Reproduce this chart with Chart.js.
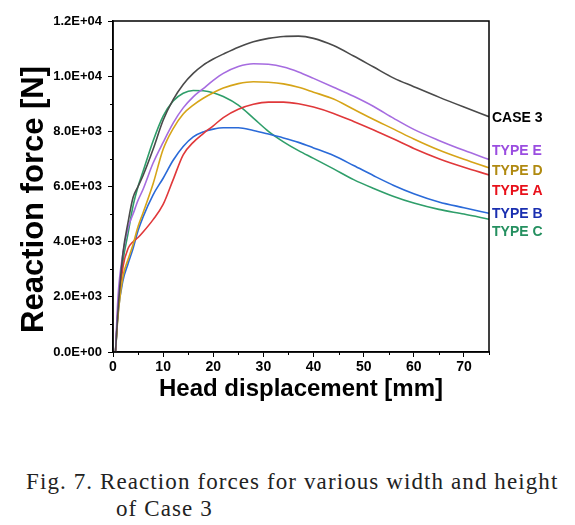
<!DOCTYPE html>
<html>
<head>
<meta charset="utf-8">
<script src="https://cdn.jsdelivr.net/npm/chart.js@4"></script>
<style>
  body { margin: 0; background: #fff; }
  #wrap { position: relative; width: 575px; height: 525px; }
  #chartBox { position: absolute; left: 0; top: 0; width: 575px; height: 420px; }
  .cap { position: absolute; font-family: 'Liberation Serif', serif; font-size: 23px; letter-spacing: 1.1px; color: #222; white-space: nowrap; }
</style>
</head>
<body>
<div id="wrap">
  <div id="chartBox"><canvas id="myChart"></canvas></div>
  <div class="cap" style="left:26px; top:469px;">Fig. 7. Reaction forces for various width and height</div>
  <div class="cap" style="left:116px; top:496px;">of Case 3</div>
</div>
<script>
  // head displacement [mm]
  const disp = [0.5, 1, 2, 3, 4, 5, 6, 8, 10, 12, 14, 16, 18, 20, 22, 25, 28, 31, 34, 37, 40, 44, 48, 52, 56, 60, 65, 70, 75];

  // reaction force [N]
  const case3 = [0, 1500, 3600, 4700, 5600, 6000, 6400, 7350, 8400, 9150, 9700, 10100, 10400, 10620, 10800, 11050, 11250, 11370, 11440, 11450, 11370, 11110, 10730, 10330, 9930, 9620, 9240, 8880, 8530];
  const typeE = [0, 2000, 3600, 4500, 5000, 5500, 5900, 6850, 7600, 8300, 8850, 9250, 9550, 9850, 10100, 10350, 10450, 10430, 10330, 10150, 9920, 9600, 9270, 8900, 8470, 8070, 7670, 7310, 6980];
  const typeD = [0, 1300, 2750, 3350, 3900, 4550, 5050, 6100, 7350, 8100, 8630, 8950, 9200, 9400, 9570, 9730, 9800, 9780, 9720, 9600, 9420, 9170, 8800, 8430, 8080, 7720, 7320, 6990, 6680];
  const typeA = [0, 1600, 3100, 3750, 4000, 4150, 4350, 4800, 5350, 6250, 7150, 7600, 7920, 8200, 8500, 8800, 8980, 9060, 9060, 9000, 8880, 8650, 8360, 8050, 7720, 7380, 7010, 6700, 6420];
  const typeB = [0, 1400, 2600, 3200, 3750, 4400, 4900, 5700, 6300, 6950, 7450, 7800, 7980, 8080, 8130, 8130, 8030, 7900, 7760, 7600, 7400, 7120, 6760, 6390, 6040, 5740, 5440, 5230, 5030];
  const typeC = [0, 1500, 3300, 4300, 5300, 6000, 6550, 7650, 8550, 9100, 9380, 9480, 9470, 9400, 9260, 8950, 8480, 8000, 7620, 7300, 7020, 6640, 6250, 5930, 5640, 5400, 5170, 5000, 4810];

  const seriesNames = ['CASE 3', 'TYPE E', 'TYPE D', 'TYPE A', 'TYPE B', 'TYPE C'];
  const seriesValues = [case3, typeE, typeD, typeA, typeB, typeC];
  const lineColors = ['#4a4a4a', '#a66ce0', '#d6a418', '#e0383a', '#2a6ad8', '#2f9e6a'];
  const labelColors = ['#000000', '#9a4de0', '#b08a10', '#e8101a', '#1a2fb0', '#259060'];
  const labelYPx = [118, 151, 171, 191, 214, 232];

  const yTicks = [0, 2000, 4000, 6000, 8000, 10000, 12000];
  const xTicks = [0, 10, 20, 30, 40, 50, 60, 70];

  function sci(v) {
    if (v === 0) return '0.0E+00';
    const e = Math.floor(Math.log10(v));
    const m = v / Math.pow(10, e);
    return m.toFixed(1) + 'E+' + String(e).padStart(2, '0');
  }

  const datasets = seriesValues.map((vals, i) => ({
    label: seriesNames[i],
    data: vals.map((v, j) => ({ x: disp[j], y: v })),
    borderColor: lineColors[i],
    borderWidth: 1.6,
    pointRadius: 0,
    showLine: true,
    cubicInterpolationMode: 'monotone',
    fill: false
  }));

  // minor ticks, frame box and the right-hand labels
  const extras = {
    id: 'extras',
    afterDraw(chart) {
      const c = chart.ctx;
      const a = chart.chartArea;
      const xs = chart.scales.x, ys = chart.scales.y;
      c.save();
      c.strokeStyle = '#000';
      c.lineWidth = 1.5;
      c.strokeRect(a.left, a.top, a.right - a.left, a.bottom - a.top);
      c.lineWidth = 1;
      c.beginPath();
      for (let v = 5; v <= 75; v += 10) {
        const px = Math.round(xs.getPixelForValue(v)) + 0.5;
        c.moveTo(px, a.bottom); c.lineTo(px, a.bottom + 3);
      }
      for (let v = 1000; v < 12000; v += 2000) {
        const py = Math.round(ys.getPixelForValue(v)) + 0.5;
        c.moveTo(a.left, py); c.lineTo(a.left - 3, py);
      }
      c.stroke();
      c.font = 'bold 14px "Liberation Sans", Arial, sans-serif';
      c.textBaseline = 'middle';
      c.textAlign = 'left';
      seriesNames.forEach((n, i) => {
        c.fillStyle = labelColors[i];
        c.fillText(n, a.right + 3, labelYPx[i]);
      });
      c.restore();
    }
  };

  const ctx = document.getElementById('myChart');
  new Chart(ctx, {
    type: 'scatter',
    data: { datasets: datasets },
    plugins: [extras],
    options: {
      responsive: true,
      maintainAspectRatio: false,
      animation: false,
      layout: { padding: { top: 21, right: 86, left: 0, bottom: 0 } },
      plugins: {
        legend: { display: false },
        tooltip: { enabled: false }
      },
      scales: {
        x: {
          type: 'linear',
          min: 0,
          max: 75,
          afterBuildTicks: (s) => { s.ticks = xTicks.map(v => ({ value: v })); },
          afterFit: (s) => { s.height = 68; },
          ticks: {
            color: '#000',
            padding: 2,
            maxRotation: 0,
            font: { size: 14, weight: 'bold', family: '"Liberation Sans", Arial, sans-serif' }
          },
          grid: { drawOnChartArea: false, tickLength: 5, color: '#000', tickWidth: 1 },
          border: { color: '#000', width: 1.5 },
          title: {
            display: true,
            text: 'Head displacement [mm]',
            color: '#000',
            padding: { top: 0, bottom: 16 },
            font: { size: 24, weight: 'bold', family: '"Liberation Sans", Arial, sans-serif' }
          }
        },
        y: {
          min: 0,
          max: 12000,
          afterBuildTicks: (s) => { s.ticks = yTicks.map(v => ({ value: v })); },
          afterFit: (s) => { s.width = 113; },
          ticks: {
            color: '#000',
            padding: 6,
            callback: (v) => sci(v),
            font: { size: 13, weight: 'bold', family: '"Liberation Sans", Arial, sans-serif' }
          },
          grid: { drawOnChartArea: false, tickLength: 5, color: '#000', tickWidth: 1 },
          border: { color: '#000', width: 1.5 },
          title: {
            display: true,
            text: 'Reaction force [N]   ',
            color: '#000',
            padding: { top: 16, bottom: 0 },
            font: { size: 31, weight: 'bold', family: '"Liberation Sans", Arial, sans-serif' }
          }
        }
      }
    }
  });
</script>
</body>
</html>
